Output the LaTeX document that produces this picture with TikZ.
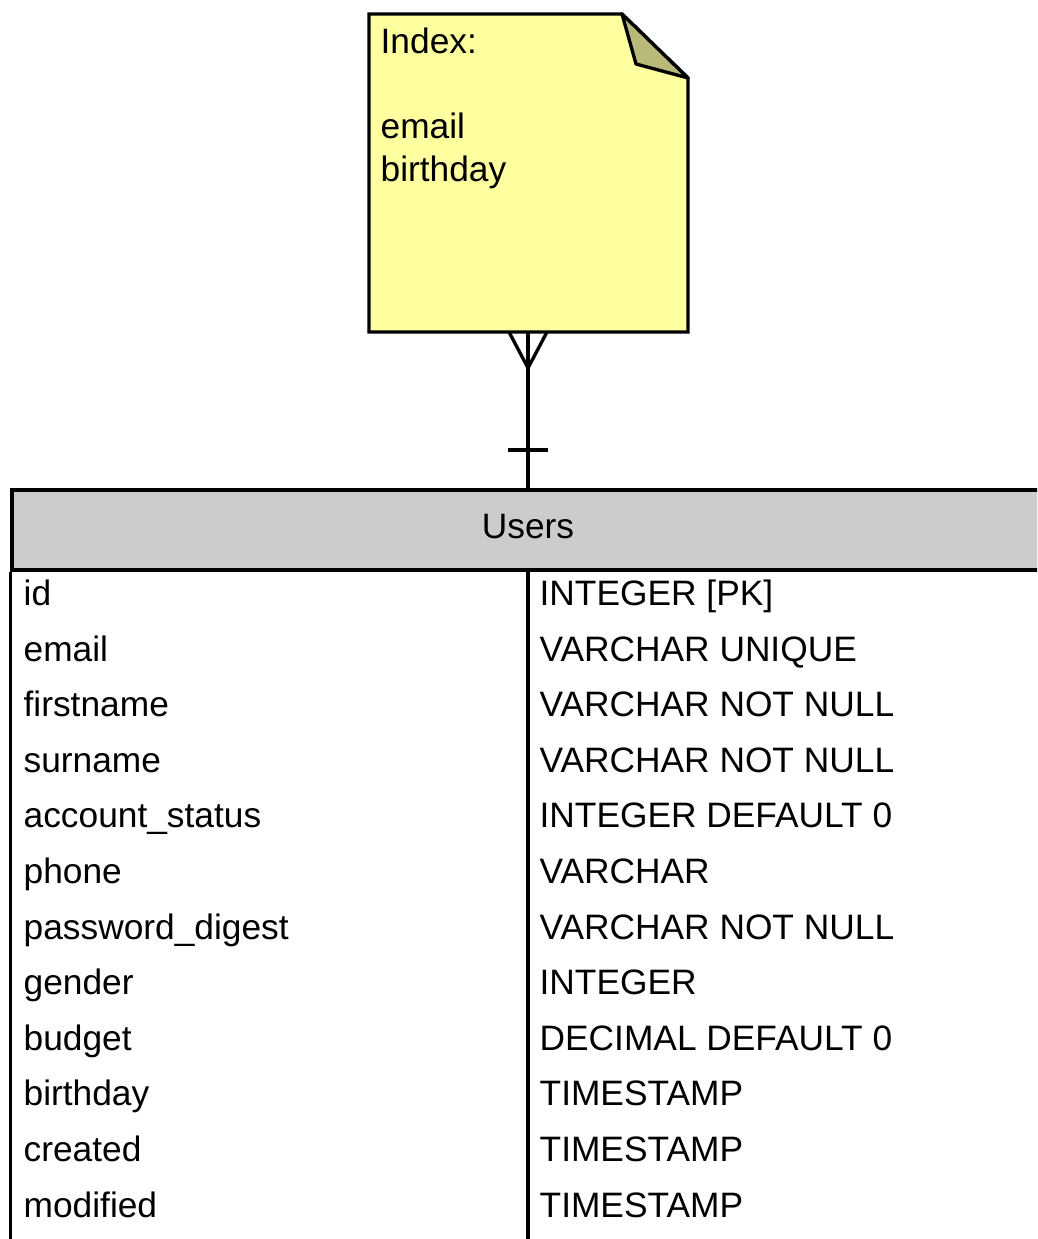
\documentclass[tikz,border=0pt]{standalone}
\usepackage{fontspec}
\setmainfont{Liberation Sans}
\usetikzlibrary{calc}
\definecolor{noteyellow}{RGB}{255,255,160}
\definecolor{notefold}{RGB}{185,185,122}
\definecolor{headgray}{RGB}{204,204,204}
\newcommand{\fieldrow}[4]{\node[anchor=base west,inner sep=0pt] (f#1) at (22,#2) {#3}; \node[anchor=base west,inner sep=0pt] (t#1) at (538,#2) {#4};}

\begin{document}
\begin{tikzpicture}[x=0.02cm,y=-0.02cm,line width=1.9pt,every node/.style={font=\fontsize{20.1}{24}\selectfont}]
    \useasboundingbox (0,0) rectangle (1037,1239);
    \clip (0,0) rectangle (1037,1239);

    %note
    \draw[fill=noteyellow] (369,14) -- (622,14) -- (688,78) -- (688,332) -- (369,332) -- cycle;
    \draw[fill=notefold,line join=round] (622,14) -- (636,64) -- (688,78) -- cycle;
    \node[anchor=base west,inner sep=0pt,align=left] (note) at (379,54) {Index:};
    \node[anchor=base west,inner sep=0pt] (idx1) at (379,139) {email};
    \node[anchor=base west,inner sep=0pt] (idx2) at (379,181.5) {birthday};
    \coordinate (notebot) at (528,332);

    %table head
    \node[draw,fill=headgray,minimum width=20.64cm,minimum height=1.6cm,inner sep=0pt] (users) at (528,530) {};
    \node[anchor=base,inner sep=0pt] (userslabel) at (528,538) {Users};

    %relation
    \draw (notebot) -- (users.north);
    \draw (509,332) -- (528,368) -- (547,332);
    \draw (508,450) -- (548,450);

    %columns
    \draw (users.south west) -- ++(0,700);
    \draw (users.south) -- ++(0,700);

    %rows
    \fieldrow{1}{605.5}{id}{INTEGER [PK]}
    \fieldrow{2}{661.1}{email}{VARCHAR UNIQUE}
    \fieldrow{3}{716.7}{firstname}{VARCHAR NOT NULL}
    \fieldrow{4}{772.3}{surname}{VARCHAR NOT NULL}
    \fieldrow{5}{827.9}{account\_status}{INTEGER DEFAULT 0}
    \fieldrow{6}{883.5}{phone}{VARCHAR}
    \fieldrow{7}{939.1}{password\_digest}{VARCHAR NOT NULL}
    \fieldrow{8}{994.7}{gender}{INTEGER}
    \fieldrow{9}{1050.3}{budget}{DECIMAL DEFAULT 0}
    \fieldrow{10}{1105.9}{birthday}{TIMESTAMP}
    \fieldrow{11}{1161.5}{created}{TIMESTAMP}
    \fieldrow{12}{1217.1}{modified}{TIMESTAMP}
\end{tikzpicture}
\end{document}
